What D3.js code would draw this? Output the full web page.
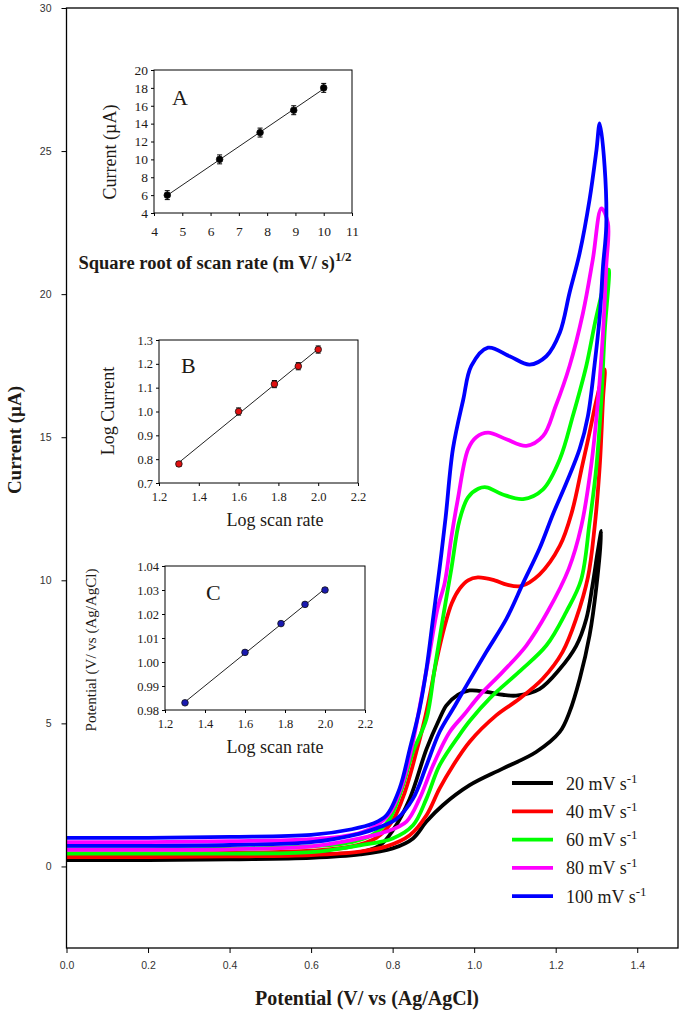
<!doctype html>
<html lang="en">
<head>
  <meta charset="utf-8">
  <title>Current vs potential</title>
  <script src="https://d3js.org/d3.v7.min.js"></script>
  <style>
    body { margin: 0px; background: #fff; }
    svg text { font-family: "Liberation Serif", "Times New Roman", serif; fill: #1e1a16; }
    .main-axis text { font-family: "Liberation Sans", Arial, sans-serif; font-size: 10.5px; fill: #333; }
    .inset-axis text { font-size: 12.5px; }
    .inset-a text { font-size: 13.5px; }
  </style>
</head>
<body>
<div id="container"></div>
<script>
// scan rates and their colours
const scanRates = ["20", "40", "60", "80", "100"];
const lineColors = ["#000000", "#ff0000", "#00ff00", "#ff00ff", "#0000ff"];

// voltammograms: forward scan (with peak) up to the turn, then back to 0 V
const potential20 = [0, 0.2, 0.4, 0.6, 0.72, 0.77, 0.80, 0.842, 0.883, 0.915, 0.932, 0.96, 0.989, 1.03, 1.07, 1.103, 1.16, 1.21, 1.25, 1.275, 1.29, 1.303, 1.312,
  1.30, 1.283, 1.259, 1.234, 1.21, 1.152, 1.07, 0.989, 0.923, 0.883, 0.85, 0.80, 0.72, 0.6, 0.4, 0.2, 0];
const current20 = [0.35, 0.35, 0.37, 0.42, 0.5, 0.75, 1.25, 2.37, 4.1, 5.16, 5.63, 6.0, 6.15, 6.1, 6.0, 5.97, 6.2, 6.9, 7.7, 8.65, 9.8, 11.0, 11.73,
  9.8, 8.07, 6.56, 5.4, 4.7, 4.0, 3.42, 2.84, 2.14, 1.57, 0.98, 0.63, 0.42, 0.3, 0.25, 0.22, 0.22];

const potential40 = [0, 0.2, 0.4, 0.6, 0.7, 0.76, 0.80, 0.83, 0.86, 0.879, 0.891, 0.907, 0.928, 0.945, 0.964, 0.985, 1.009, 1.05, 1.08, 1.115, 1.16, 1.21, 1.24, 1.265, 1.283, 1.30, 1.32,
  1.316, 1.308, 1.295, 1.279, 1.25, 1.217, 1.168, 1.111, 1.054, 0.989, 0.948, 0.915, 0.883, 0.842, 0.785, 0.72, 0.6, 0.4, 0.2, 0];
const current40 = [0.45, 0.45, 0.47, 0.55, 0.7, 1.0, 1.6, 2.6, 4.1, 5.16, 5.97, 7.15, 8.42, 9.2, 9.7, 10.0, 10.1, 10.0, 9.85, 9.8, 10.2, 11.2, 12.4, 14.0, 15.16, 16.3, 17.37,
  16.32, 14.0, 11.8, 10.1, 8.65, 7.5, 6.56, 5.86, 5.28, 4.36, 3.52, 2.72, 1.79, 1.09, 0.70, 0.52, 0.4, 0.35, 0.33, 0.33];

const potential60 = [0, 0.2, 0.4, 0.6, 0.7, 0.75, 0.79, 0.82, 0.85, 0.883, 0.903, 0.923, 0.944, 0.964, 0.985, 1.01, 1.03, 1.07, 1.12, 1.169, 1.21, 1.242, 1.275, 1.30, 1.33,
  1.32, 1.312, 1.30, 1.283, 1.262, 1.226, 1.177, 1.11, 1.04, 0.99, 0.964, 0.915, 0.883, 0.85, 0.80, 0.72, 0.6, 0.4, 0.2, 0];
const current60 = [0.6, 0.6, 0.62, 0.7, 0.85, 1.1, 1.6, 2.6, 4.0, 5.16, 6.9, 8.65, 10.4, 12.1, 12.9, 13.2, 13.25, 13.0, 12.84, 13.18, 14.23, 15.74, 17.49, 19.23, 20.86,
  18.65, 16.32, 14.0, 12.0, 10.0, 8.9, 7.72, 6.8, 5.9, 5.1, 4.6, 3.53, 2.37, 1.44, 0.98, 0.74, 0.5, 0.45, 0.45, 0.45];

const potential80 = [0, 0.2, 0.4, 0.6, 0.7, 0.75, 0.79, 0.82, 0.846, 0.87, 0.89, 0.91, 0.928, 0.944, 0.96, 0.985, 1.005, 1.034, 1.079, 1.128, 1.169, 1.20, 1.234, 1.267, 1.291, 1.312, 1.328,
  1.324, 1.316, 1.304, 1.287, 1.263, 1.232, 1.18, 1.128, 1.07, 1.013, 0.975, 0.94, 0.899, 0.866, 0.834, 0.785, 0.72, 0.6, 0.4, 0.2, 0];
const current80 = [0.85, 0.85, 0.88, 0.95, 1.1, 1.35, 1.8, 2.72, 4.1, 5.86, 7.4, 9.0, 9.93, 11.5, 12.84, 14.58, 15.0, 15.16, 14.93, 14.7, 15.04, 16.09, 17.49, 19.35, 21.21, 23.0, 22.49,
  20.97, 18.65, 16.32, 14.0, 11.9, 10.4, 8.9, 7.72, 6.8, 5.97, 5.3, 4.7, 3.53, 2.37, 1.57, 1.22, 0.98, 0.7, 0.6, 0.58, 0.58];

const potential100 = [0, 0.2, 0.4, 0.6, 0.7, 0.752, 0.785, 0.817, 0.842, 0.866, 0.883, 0.899, 0.915, 0.93, 0.948, 0.973, 0.993, 1.034, 1.087, 1.136, 1.177, 1.21, 1.234, 1.259, 1.283, 1.30, 1.308,
  1.32, 1.324, 1.316, 1.308, 1.295, 1.279, 1.259, 1.226, 1.193, 1.16, 1.12, 1.079, 1.03, 0.981, 0.952, 0.915, 0.883, 0.85, 0.81, 0.76, 0.72, 0.6, 0.4, 0.2, 0];
const current100 = [1.0, 1.0, 1.03, 1.1, 1.3, 1.5, 1.79, 2.72, 4.1, 5.5, 6.9, 8.65, 10.4, 12.2, 14.6, 16.3, 17.49, 18.13, 17.83, 17.54, 17.83, 18.65, 20.05, 21.45, 23.3, 25.04, 25.97,
  24.46, 22.37, 20.97, 19.23, 17.49, 15.74, 14.6, 13.4, 12.3, 11.1, 9.9, 8.65, 7.5, 6.32, 5.6, 4.7, 3.53, 2.37, 1.67, 1.33, 1.15, 0.85, 0.75, 0.72, 0.72];

const scanPotentials = [potential20, potential40, potential60, potential80, potential100];
const scanCurrents = [current20, current40, current60, current80, current100];

const mainXTicks = [0, 0.2, 0.4, 0.6, 0.8, 1.0, 1.2, 1.4];
const mainYTicks = [0, 5, 10, 15, 20, 25, 30];

// inset A: peak current vs square root of scan rate
const sqrtRate = [4.47, 6.32, 7.75, 8.94, 10.0];
const peakCurrent = [6.0, 10.0, 13.0, 15.5, 18.0];
const peakCurrentErr = [0.5, 0.5, 0.5, 0.5, 0.5];
// inset B: log current vs log scan rate
const logRate = [1.30, 1.60, 1.78, 1.90, 2.00];
const logCurrent = [0.78, 1.0, 1.115, 1.19, 1.26];
const logCurrentErr = [0.01, 0.015, 0.015, 0.015, 0.015];
// inset C: peak potential vs log scan rate
const peakPotential = [0.983, 1.004, 1.016, 1.024, 1.030];
const peakPotentialErr = [0.0005, 0.0005, 0.0005, 0.0007, 0.0008];

const width = 682, height = 1015;
const svg = d3.select("#container").append("svg")
  .attr("width", width).attr("height", height);

// ---------- main chart ----------
const x = d3.scaleLinear().domain([0, 1.5]).range([66.5, 678]);
const y = d3.scaleLinear().domain([-2.85, 30]).range([948, 8]);

svg.append("g").attr("class", "main-axis")
  .attr("transform", "translate(0," + y.range()[0] + ")")
  .call(d3.axisBottom(x).tickValues(mainXTicks).tickFormat(d3.format(".1f")).tickSize(5).tickPadding(9))
  .call(g => g.select(".domain").remove());

svg.append("g").attr("class", "main-axis")
  .attr("transform", "translate(" + x.range()[0] + ",0)")
  .call(d3.axisLeft(y).tickValues(mainYTicks).tickFormat(d3.format("d")).tickSize(5).tickPadding(10))
  .call(g => g.select(".domain").remove());

const line = d3.line()
  .x(d => x(d[0])).y(d => y(d[1]))
  .curve(d3.curveCatmullRom.alpha(0.5));

scanRates.forEach((r, k) => {
  const pts = scanPotentials[k].map((v, j) => [v, scanCurrents[k][j]]);
  svg.append("path")
    .attr("d", line(pts))
    .attr("fill", "none")
    .attr("stroke", lineColors[k])
    .attr("stroke-width", 3.8)
    .attr("stroke-linejoin", "round");
});

svg.append("rect")
  .attr("x", x.range()[0]).attr("y", y.range()[1])
  .attr("width", x.range()[1] - x.range()[0])
  .attr("height", y.range()[0] - y.range()[1])
  .attr("fill", "none").attr("stroke", "#000").attr("stroke-width", 1.3);

// legend
const legend = svg.append("g");
scanRates.forEach((r, k) => {
  const ly = 783 + k * 28.3;
  legend.append("line")
    .attr("x1", 512).attr("x2", 553).attr("y1", ly).attr("y2", ly)
    .attr("stroke", lineColors[k]).attr("stroke-width", 3.8);
  const t = legend.append("text")
    .attr("x", 566).attr("y", ly + 6.5)
    .style("font-size", "18px")
    .text(r + " mV s");
  t.append("tspan").attr("dy", -7).style("font-size", "13px").text("-1");
});

// axis titles
svg.append("text")
  .attr("transform", "translate(21,440) rotate(-90)")
  .attr("text-anchor", "middle")
  .style("font-size", "19px").style("font-weight", "bold")
  .text("Current (µA)");

svg.append("text")
  .attr("x", 367).attr("y", 1005)
  .attr("text-anchor", "middle")
  .style("font-size", "20px").style("font-weight", "bold")
  .text("Potential (V/ vs (Ag/AgCl)");

// ---------- insets ----------
function drawInset(opt) {
  const sx = d3.scaleLinear().domain(opt.xDomain).range([opt.left, opt.right]);
  const sy = d3.scaleLinear().domain(opt.yDomain).range([opt.bottom, opt.top]);
  const g = svg.append("g").attr("class", opt.cls);

  g.append("g").attr("class", "inset-axis")
    .attr("transform", "translate(0," + opt.bottom + ")")
    .call(d3.axisBottom(sx).tickValues(opt.xTicks).tickFormat(opt.xFormat).tickSize(3).tickPadding(opt.xPad))
    .call(a => a.select(".domain").remove());
  g.append("g").attr("class", "inset-axis")
    .attr("transform", "translate(" + opt.left + ",0)")
    .call(d3.axisLeft(sy).tickValues(opt.yTicks).tickFormat(opt.yFormat).tickSize(3).tickPadding(3))
    .call(a => a.select(".domain").remove());

  g.append("rect")
    .attr("x", opt.left).attr("y", opt.top)
    .attr("width", opt.right - opt.left).attr("height", opt.bottom - opt.top)
    .attr("fill", "none").attr("stroke", "#000").attr("stroke-width", 1);

  // least squares fit line
  const n = opt.xs.length;
  const mx = d3.mean(opt.xs), my = d3.mean(opt.ys);
  const slope = d3.sum(opt.xs.map((v, i) => (v - mx) * (opt.ys[i] - my))) /
    d3.sum(opt.xs.map(v => (v - mx) * (v - mx)));
  const x0 = opt.xs[0], x1 = opt.xs[n - 1];
  g.append("line")
    .attr("x1", sx(x0)).attr("y1", sy(my + slope * (x0 - mx)))
    .attr("x2", sx(x1)).attr("y2", sy(my + slope * (x1 - mx)))
    .attr("stroke", "#222").attr("stroke-width", 1);

  // error bars
  opt.xs.forEach((v, i) => {
    const e = opt.errs[i];
    const cx = sx(v);
    g.append("line").attr("x1", cx).attr("x2", cx)
      .attr("y1", sy(opt.ys[i] - e)).attr("y2", sy(opt.ys[i] + e))
      .attr("stroke", "#000").attr("stroke-width", 1);
    [opt.ys[i] - e, opt.ys[i] + e].forEach(w => {
      g.append("line").attr("x1", cx - 2.5).attr("x2", cx + 2.5)
        .attr("y1", sy(w)).attr("y2", sy(w))
        .attr("stroke", "#000").attr("stroke-width", 1);
    });
  });

  g.selectAll("circle").data(opt.xs).join("circle")
    .attr("cx", d => sx(d))
    .attr("cy", (d, i) => sy(opt.ys[i]))
    .attr("r", 3.3)
    .attr("fill", opt.markerFill)
    .attr("stroke", "#111").attr("stroke-width", 0.8);

  g.append("text")
    .attr("x", opt.letterX).attr("y", opt.letterY)
    .style("font-size", "22px")
    .text(opt.letter);

  g.append("text")
    .attr("transform", "translate(" + opt.yTitleX + "," + opt.yTitleY + ") rotate(-90)")
    .attr("text-anchor", "middle")
    .style("font-size", opt.yTitleSize)
    .text(opt.yTitle);

  const xt = g.append("text")
    .attr("x", opt.xTitleX).attr("y", opt.xTitleY)
    .attr("text-anchor", "middle")
    .style("font-size", opt.xTitleSize)
    .style("font-weight", opt.xTitleWeight)
    .text(opt.xTitle);
  if (opt.xTitleSup) {
    xt.append("tspan").attr("dy", -8).style("font-size", "13px").text(opt.xTitleSup);
  }
}

drawInset({
  cls: "inset-a",
  left: 154, right: 352, top: 70, bottom: 213,
  xDomain: [4, 11], yDomain: [4, 20],
  xTicks: d3.range(4, 12), yTicks: d3.range(4, 21, 2),
  xFormat: d3.format("d"), yFormat: d3.format("d"), xPad: 10,
  xs: sqrtRate, ys: peakCurrent, errs: peakCurrentErr,
  markerFill: "#000",
  letter: "A", letterX: 172, letterY: 105,
  yTitle: "Current (µA)", yTitleX: 116, yTitleY: 152, yTitleSize: "18px",
  xTitle: "Square root of scan rate (m V/ s)", xTitleSup: "1/2",
  xTitleX: 215, xTitleY: 269, xTitleSize: "18.5px", xTitleWeight: "bold"
});

drawInset({
  cls: "inset-b",
  left: 159, right: 358, top: 340, bottom: 483,
  xDomain: [1.2, 2.2], yDomain: [0.7, 1.3],
  xTicks: [1.2, 1.4, 1.6, 1.8, 2.0, 2.2], yTicks: [0.7, 0.8, 0.9, 1.0, 1.1, 1.2, 1.3],
  xFormat: d3.format(".1f"), yFormat: d3.format(".1f"), xPad: 6,
  xs: logRate, ys: logCurrent, errs: logCurrentErr,
  markerFill: "#e01010",
  letter: "B", letterX: 181, letterY: 373,
  yTitle: "Log Current", yTitleX: 114, yTitleY: 411, yTitleSize: "18px",
  xTitle: "Log scan rate", xTitleSup: null,
  xTitleX: 275, xTitleY: 526, xTitleSize: "18px", xTitleWeight: "normal"
});

drawInset({
  cls: "inset-c",
  left: 165, right: 365, top: 566, bottom: 710,
  xDomain: [1.2, 2.2], yDomain: [0.98, 1.04],
  xTicks: [1.2, 1.4, 1.6, 1.8, 2.0, 2.2], yTicks: [0.98, 0.99, 1.00, 1.01, 1.02, 1.03, 1.04],
  xFormat: d3.format(".1f"), yFormat: d3.format(".2f"), xPad: 6,
  xs: logRate, ys: peakPotential, errs: peakPotentialErr,
  markerFill: "#1a1ab0",
  letter: "C", letterX: 206, letterY: 600,
  yTitle: "Potential (V/ vs (Ag/AgCl)", yTitleX: 96, yTitleY: 650, yTitleSize: "15px",
  xTitle: "Log scan rate", xTitleSup: null,
  xTitleX: 275, xTitleY: 753, xTitleSize: "18px", xTitleWeight: "normal"
});
</script>
</body>
</html>
